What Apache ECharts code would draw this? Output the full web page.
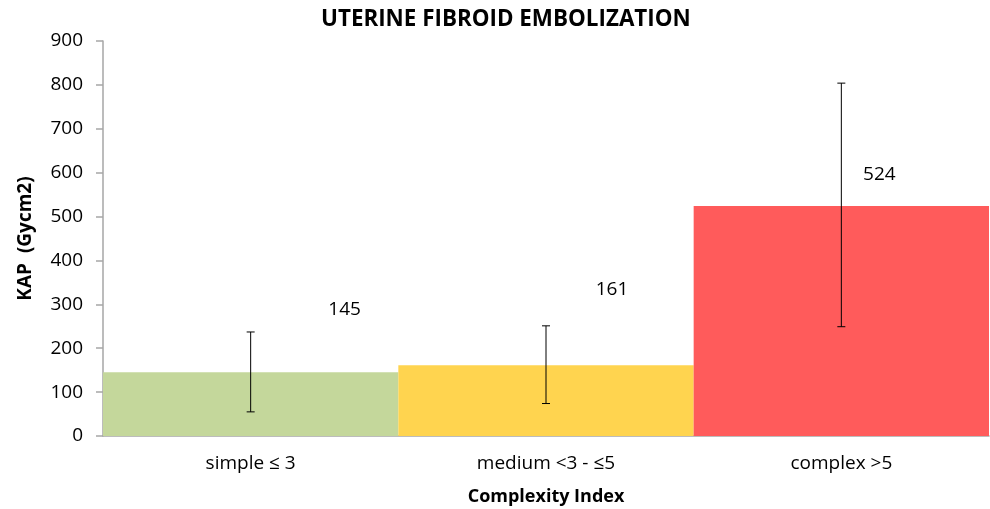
<!DOCTYPE html>
<html>
<head>
<meta charset="utf-8">
<script src="https://cdn.jsdelivr.net/npm/echarts@6/dist/echarts.min.js"></script>
<style>
  html, body { margin: 0; padding: 0; background: #fff; }
  #chart { width: 990px; height: 509px; }
</style>
</head>
<body>
<div id="chart"></div>
<script>
const categories = ['simple \u2264 3', 'medium <3 - \u22645', 'complex >5'];
const kapValues = [145, 161, 524];
const errLow = [55, 74, 249];
const errHigh = [237, 251, 804];
const yTicks = [0, 100, 200, 300, 400, 500, 600, 700, 800, 900];

const barColors = ['#C4D79B', '#FFD44F', '#FF5B5B'];
// Excel placed the data labels by hand, off to the right of each bar
const labelOffsets = [[94, -48], [66, -61], [38, -17]];

const font = 'Open Sans';
const chart = echarts.init(document.getElementById('chart'));

const option = {
  animation: false,
  textStyle: { fontFamily: font, color: '#000' },
  title: {
    text: 'UTERINE FIBROID EMBOLIZATION',
    left: 316,
    top: 4,
    textStyle: { fontFamily: font, fontSize: 22.4, fontWeight: 'bold', color: '#000' }
  },
  grid: { left: 103, right: 1, top: 41, bottom: 73, outerBoundsMode: 'none' },
  xAxis: {
    type: 'category',
    data: categories,
    name: 'Complexity Index',
    nameLocation: 'center',
    nameGap: 52,
    nameTextStyle: { fontFamily: font, fontSize: 18, fontWeight: 'bold', color: '#000' },
    axisLine: { lineStyle: { color: '#A6A6A6', width: 1.5 } },
    axisTick: { show: false },
    axisLabel: { fontFamily: font, fontSize: 19, color: '#000', margin: 18 }
  },
  yAxis: {
    type: 'value',
    min: yTicks[0],
    max: yTicks[yTicks.length - 1],
    interval: yTicks[1] - yTicks[0],
    name: 'KAP  (Gycm2)',
    nameLocation: 'center',
    nameGap: 68,
    nameTextStyle: { fontFamily: font, fontSize: 19, fontWeight: 'bold', color: '#000' },
    axisLine: { show: true, lineStyle: { color: '#A6A6A6', width: 1.5 } },
    axisTick: { show: true, length: 7, lineStyle: { color: '#A6A6A6', width: 1.5 } },
    axisLabel: { fontFamily: font, fontSize: 19, color: '#000', margin: 20 },
    splitLine: { show: false }
  },
  series: [
    {
      type: 'bar',
      barCategoryGap: 0,
      data: kapValues.map((v, i) => ({
        value: v,
        itemStyle: { color: barColors[i] },
        label: {
          show: true,
          position: 'top',
          offset: labelOffsets[i],
          fontFamily: font,
          fontSize: 19,
          color: '#000'
        }
      }))
    },
    {
      type: 'custom',
      z: 5,
      data: categories.map((c, i) => [i, errLow[i], errHigh[i]]),
      renderItem: function (params, api) {
        const lo = api.coord([api.value(0), api.value(1)]);
        const hi = api.coord([api.value(0), api.value(2)]);
        const w = 4;
        const style = { stroke: '#000', lineWidth: 1 };
        return {
          type: 'group',
          children: [
            { type: 'line', shape: { x1: lo[0], y1: lo[1], x2: hi[0], y2: hi[1] }, style: style },
            { type: 'line', shape: { x1: lo[0] - w, y1: lo[1], x2: lo[0] + w, y2: lo[1] }, style: style },
            { type: 'line', shape: { x1: hi[0] - w, y1: hi[1], x2: hi[0] + w, y2: hi[1] }, style: style }
          ]
        };
      }
    }
  ]
};

chart.setOption(option);
</script>
</body>
</html>
